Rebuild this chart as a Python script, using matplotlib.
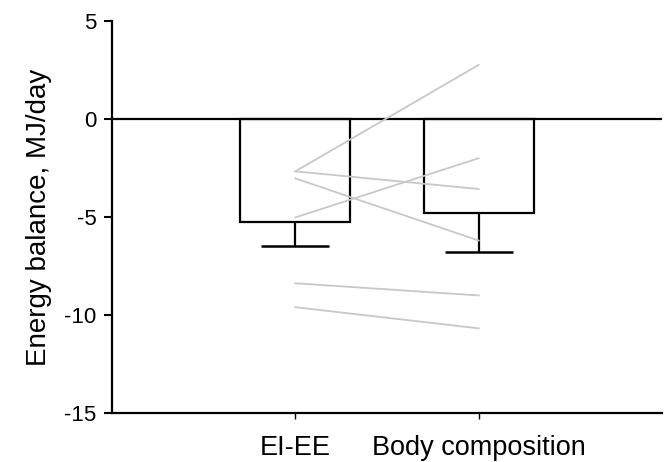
import matplotlib
matplotlib.use("Agg")
import matplotlib.pyplot as plt
import numpy as np

plt.rcParams['font.family'] = ['Liberation Sans', 'DejaVu Sans']
plt.rcParams['axes.unicode_minus'] = False

categories = ['EI-EE', 'Body composition']
means = [-5.24, -4.78]
sem_lower = [1.24, 2.01]

# individual subjects: value by EI-EE, value by body composition
subj_eiee = [-2.67, -2.67, -3.03, -5.02, -8.38, -9.60]
subj_body = [2.76, -3.57, -6.20, -2.00, -9.00, -10.68]

fig = plt.figure(figsize=(6.69, 4.62), dpi=100)
ax = fig.add_axes([0.1674, 0.106, 0.8221, 0.8485])

x = np.arange(len(categories))
m = np.array(means)
lo = m - np.array(sem_lower)
ax.bar(x, means, width=0.6, color='white', edgecolor='black', linewidth=1.6, zorder=2)
# lower-only error bars
ax.vlines(x, lo, m, color='black', linewidth=1.6, zorder=3)
ax.hlines(lo, x - 0.185, x + 0.185, color='black', linewidth=1.8, zorder=3)
ax.axhline(0, color='black', linewidth=1.6, zorder=2.5)

for a, b in zip(subj_eiee, subj_body):
    ax.plot(x, [a, b], color='#c8c8c8', linewidth=1.3, zorder=4)

ax.set_xlim(-1.0, 2.0)
ax.set_ylim(-15, 5)
ax.set_yticks([5, 0, -5, -10, -15])
ax.set_xticks(x)
ax.set_xticklabels(categories, fontsize=19.5)
ax.set_ylabel('Energy balance, MJ/day', fontsize=20, labelpad=9)

for s in ['top', 'right']:
    ax.spines[s].set_visible(False)
for s in ['left', 'bottom']:
    ax.spines[s].set_linewidth(1.6)
ax.tick_params(axis='y', length=6, width=1.5, labelsize=16, pad=5)
ax.tick_params(axis='x', length=4, width=1.0, pad=12)

fig.savefig('out.png', dpi=100)
